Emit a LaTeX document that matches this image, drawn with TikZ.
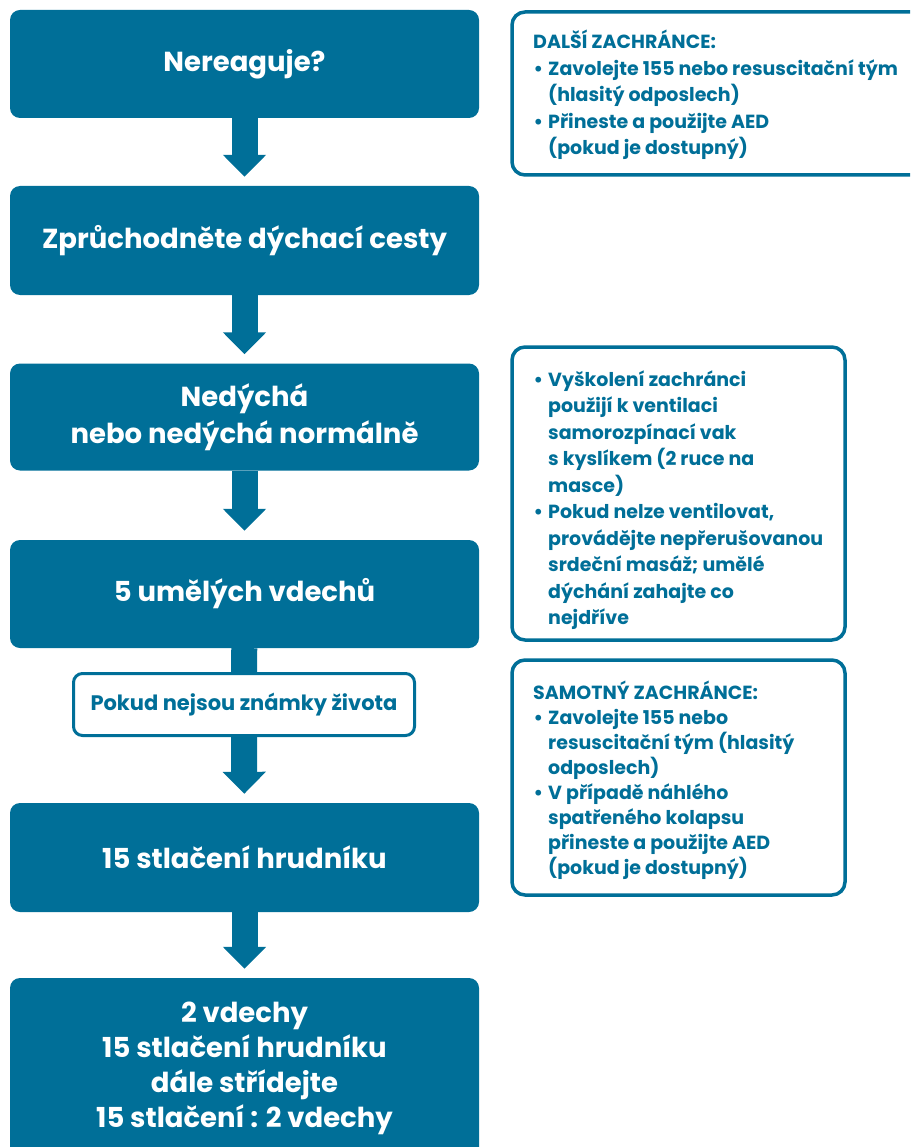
\documentclass[tikz,border=0pt]{standalone}
\usepackage{fontspec}
\setmainfont{Poppins}
\usetikzlibrary{arrows.meta}
\definecolor{rescueblue}{RGB}{0,111,152}
\newcommand{\bodik}{\llap{\textbullet\hspace{5pt}}}

\begin{document}
\begin{tikzpicture}[
    x=1pt, y=-1pt,
    flow box/.style={rectangle, rounded corners=10pt, fill=rescueblue, text=white, align=center, inner sep=0pt, minimum width=469pt, font=\bfseries\fontsize{27.5}{37}\selectfont},
    life box/.style={rectangle, rounded corners=9pt, draw=rescueblue, line width=3pt, fill=white, text=rescueblue, inner sep=0pt, font=\bfseries\fontsize{21}{24}\selectfont},
    note box/.style={rectangle, rounded corners=13pt, draw=rescueblue, line width=3.5pt, fill=white, inner sep=0pt},
    note text/.style={anchor=west, align=left, text=rescueblue, inner sep=0pt, font=\bfseries\fontsize{19}{26.5}\selectfont},
    flow arrow/.style={draw=rescueblue, line width=26pt, -{Triangle[width=42pt,length=22pt]}, shorten >=9pt},
    flow link/.style={draw=rescueblue, line width=26pt}
]
\useasboundingbox (0,0) rectangle (910,1147);
\clip (0,0) rectangle (910,1147);

% hlavni postup
\node[flow box, minimum height=108pt] (nereaguje) at (244.5, 64) {Nereaguje?};
\node[flow box, minimum height=109pt] (cesty) at (244.5, 240.5) {Zprůchodněte dýchací cesty};
\node[flow box, minimum height=107pt] (nedycha) at (244.5, 417) {Nedýchá\\nebo nedýchá normálně};
\node[flow box, minimum height=108pt] (vdechy) at (244.5, 594) {5 umělých vdechů};
\node[life box, minimum width=341pt, minimum height=62pt] (znamky) at (244, 704.5) {Pokud nejsou známky života};
\node[flow box, minimum height=109pt] (stlaceni) at (244.5, 857.5) {15 stlačení hrudníku};
\node[flow box, minimum height=180pt, font=\bfseries\fontsize{27.5}{35}\selectfont] (stridani) at (244.5, 1068) {2 vdechy\\15 stlačení hrudníku\\dále střídejte\\15 stlačení : 2 vdechy};

% sipky
\draw[flow arrow] (nereaguje) -- (cesty);
\draw[flow arrow] (cesty) -- (nedycha);
\draw[flow arrow] (nedycha) -- (vdechy);
\draw[flow link] (vdechy) -- (znamky);
\draw[flow arrow] (znamky) -- (stlaceni);
\draw[flow arrow] (stlaceni) -- (stridani);

% poznamky vpravo
\node[note box, minimum width=418pt, minimum height=163pt] (dalsi) at (721, 93.5) {};
\node[note text] (dalsi text) at (548, 95) {\hspace*{-15pt}DALŠÍ ZACHRÁNCE:\\
\bodik Zavolejte 155 nebo resuscitační tým\\
(hlasitý odposlech)\\
\bodik Přineste a použijte AED\\
(pokud je dostupný)};

\node[note box, minimum width=333pt, minimum height=293pt] (vycvik) at (678.5, 493.5) {};
\node[note text] (vycvik text) at (548, 500) {\bodik Vyškolení zachránci\\
použijí k ventilaci\\
samorozpínací vak\\
s kyslíkem (2 ruce na\\
masce)\\
\bodik Pokud nelze ventilovat,\\
provádějte nepřerušovanou\\
srdeční masáž; umělé\\
dýchání zahajte co\\
nejdříve};

\node[note box, minimum width=333pt, minimum height=235pt] (samotny) at (678.5, 777.5) {};
\node[note text, font=\bfseries\fontsize{19}{25}\selectfont] (samotny text) at (548, 780) {\hspace*{-15pt}SAMOTNÝ ZACHRÁNCE:\\
\bodik Zavolejte 155 nebo\\
resuscitační tým (hlasitý\\
odposlech)\\
\bodik V případě náhlého\\
spatřeného kolapsu\\
přineste a použijte AED\\
(pokud je dostupný)};

\end{tikzpicture}
\end{document}
